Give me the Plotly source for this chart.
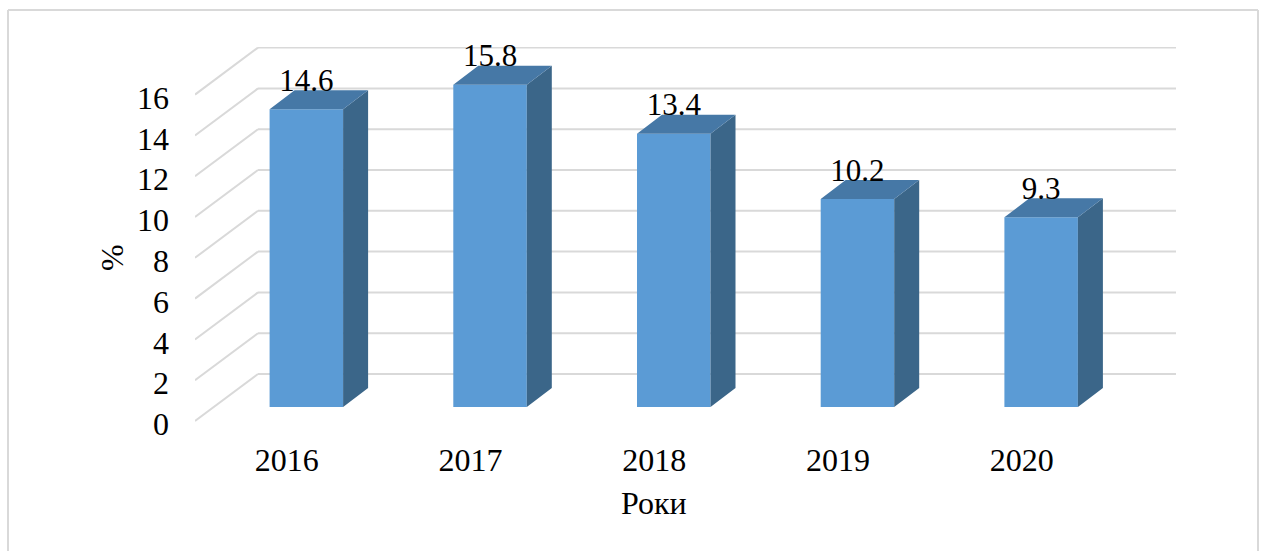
import plotly.graph_objects as go

years = ["2016", "2017", "2018", "2019", "2020"]
values = [14.6, 15.8, 13.4, 10.2, 9.3]
y_ticks = [0, 2, 4, 6, 8, 10, 12, 14, 16]

FONT = "Liberation Serif"
FS = 32
FS_LABEL = 31
GRID = "#D9D9D9"
FRONT = "#5B9BD5"
TOP = "#4678A6"
SIDE = "#3B6689"

# plot-area geometry (px); B0 is where value 0 of the front plane lies
L, R, T, B0 = 195, 1176, 47, 421
PAD_B = 7             # extra room under value 0 so the nudged 0 tick stays in range
B = B0 + PAD_B
W, H = 1263, 551
PX_X = 183.7          # px per category
PX_Y = 20.4           # px per value unit

# pseudo-3D projection, in axis units
WALL_DX = 63 / PX_X
WALL_DY = 47 / PX_Y
BAR_OFF_X = 19.5 / PX_X
BAR_OFF_Y = 14 / PX_Y
BAR_W = 73.5 / PX_X
BAR_DX = 25 / PX_X
BAR_DY = 19 / PX_Y
LABEL_NUDGE = 3 / PX_Y

x_idx = list(range(len(years)))
x_min = -0.5
x_max = x_min + (R - L) / PX_X
y_min = -PAD_B / PX_Y
y_max = (B0 - T) / PX_Y

centers = [i + BAR_OFF_X for i in x_idx]

tops_x, tops_y, sides_x, sides_y = [], [], [], []
for c, v in zip(centers, values):
    xl, xr = c - BAR_W / 2, c + BAR_W / 2
    y0, y1 = BAR_OFF_Y, BAR_OFF_Y + v
    tops_x += [xl, xr, xr + BAR_DX, xl + BAR_DX, xl, None]
    tops_y += [y1, y1, y1 + BAR_DY, y1 + BAR_DY, y1, None]
    sides_x += [xr, xr + BAR_DX, xr + BAR_DX, xr, xr, None]
    sides_y += [y0, y0 + BAR_DY, y1 + BAR_DY, y1, y0, None]

fig = go.Figure()
fig.add_trace(go.Bar(
    x=centers, y=values, base=[BAR_OFF_Y] * len(values), width=BAR_W,
    marker=dict(color=FRONT, line=dict(width=0)), hoverinfo="skip",
))
fig.add_trace(go.Scatter(x=sides_x, y=sides_y, mode="lines", fill="toself",
                         fillcolor=SIDE, line=dict(width=0), hoverinfo="skip"))
fig.add_trace(go.Scatter(x=tops_x, y=tops_y, mode="lines", fill="toself",
                         fillcolor=TOP, line=dict(width=0), hoverinfo="skip"))
fig.add_trace(go.Scatter(
    x=centers, y=[BAR_OFF_Y + v + 26 / PX_Y for v in values],
    mode="text", text=[f"{v:.1f}" for v in values], textposition="middle center",
    textfont=dict(family=FONT, size=FS_LABEL, color="#000000"), hoverinfo="skip",
    cliponaxis=False,
))

shapes = []
for t in y_ticks:
    shapes.append(dict(type="line", xref="x", yref="y", layer="below",
                       x0=x_min, y0=t, x1=x_min + WALL_DX, y1=t + WALL_DY,
                       line=dict(color=GRID, width=2)))
    shapes.append(dict(type="line", xref="x", yref="y", layer="below",
                       x0=x_min + WALL_DX, y0=t + WALL_DY, x1=x_max, y1=t + WALL_DY,
                       line=dict(color=GRID, width=2)))


def px(p):
    return (p - L) / (R - L)


def py(p):
    return (B - p) / (B - T)


bx0, bx1, by0, by1 = 8, 1258, 10, H + 5
for (a, b, c, d) in [(bx0, by0, bx1, by0), (bx0, by0, bx0, by1), (bx1, by0, bx1, by1)]:
    shapes.append(dict(type="line", xref="paper", yref="paper", layer="below",
                       x0=px(a), y0=py(b), x1=px(c), y1=py(d),
                       line=dict(color=GRID, width=2)))

fig.update_layout(
    width=W, height=H, autosize=False,
    margin=dict(l=L, r=W - R, t=T, b=H - B, pad=0),
    paper_bgcolor="white", plot_bgcolor="rgba(0,0,0,0)",
    showlegend=False, barmode="overlay",
    font=dict(family=FONT, size=FS, color="#000000"),
    xaxis=dict(range=[x_min, x_max], tickmode="array", tickvals=x_idx, ticktext=years,
               showgrid=False, zeroline=False, showline=False, ticks="",
               ticklabelstandoff=10, tickfont=dict(family=FONT, size=FS)),
    yaxis=dict(range=[y_min, y_max], tickmode="array",
               tickvals=[t - LABEL_NUDGE for t in y_ticks],
               ticktext=[str(t) for t in y_ticks],
               showgrid=False, zeroline=False, showline=False, ticks="",
               ticklabelstandoff=25, tickfont=dict(family=FONT, size=FS)),
    shapes=shapes,
    annotations=[
        dict(text="Роки", xref="paper", yref="paper", x=px(654), y=py(503),
             showarrow=False, xanchor="center", yanchor="middle",
             font=dict(family=FONT, size=FS)),
        dict(text="%", xref="paper", yref="paper", x=px(112), y=py(258), textangle=-90,
             showarrow=False, xanchor="center", yanchor="middle",
             font=dict(family=FONT, size=FS)),
    ],
)

fig.write_html("out.html", config=dict(displayModeBar=False),
               post_script="document.body.style.margin='0';document.body.style.overflow='hidden';")
